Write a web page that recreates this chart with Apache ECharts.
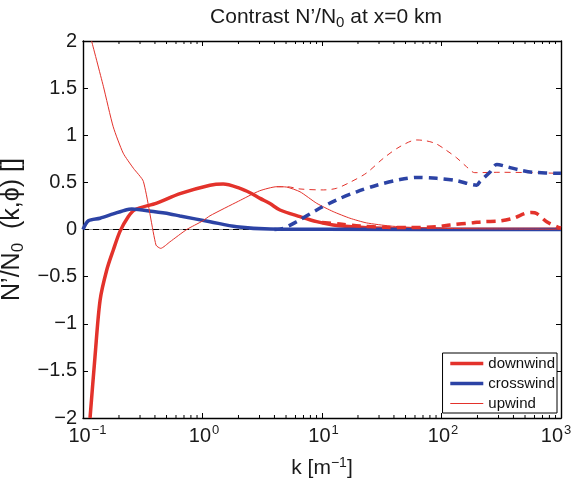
<!DOCTYPE html>
<html>
<head>
<meta charset="utf-8">
<script src="https://cdn.jsdelivr.net/npm/echarts@6/dist/echarts.min.js"></script>
<style>
  html, body { margin: 0; padding: 0; background: #fff; }
  #chart { width: 572px; height: 489px; }
</style>
</head>
<body>
<div id="chart"></div>
<script>
// Contrast N'/N0 versus wavenumber k, three look directions.
// Solid parts and dashed parts of each direction are kept as separate lists of [k, value].

const downwindSolid = [
  [0.1145, -2.0], [0.126, -1.35], [0.139, -0.75], [0.158, -0.43], [0.179, -0.22],
  [0.204, -0.02], [0.239, 0.136], [0.272, 0.21], [0.414, 0.28], [0.648, 0.38],
  [1.156, 0.47], [1.49, 0.483], [2.06, 0.437], [2.5, 0.39], [3.03, 0.33],
  [3.67, 0.275], [4.45, 0.207], [6.55, 0.136], [9.03, 0.083], [12.4, 0.048],
  [20.8, 0.023], [40, 0.01], [100, 0.005], [1000, 0.002]
];
const downwindDashed = [
  [10, 0.075], [14.15, 0.058], [20.8, 0.037], [34.8, 0.023], [51.2, 0.02],
  [91, 0.03], [117.8, 0.048], [184.6, 0.072], [224, 0.083], [309, 0.09],
  [399, 0.12], [500, 0.17], [568, 0.18], [626, 0.17], [759, 0.083],
  [949, 0.023], [1000, 0.015]
];
const crosswindSolid = [
  [0.1, 0.0], [0.111, 0.093], [0.139, 0.12], [0.179, 0.165], [0.232, 0.21],
  [0.256, 0.217], [0.388, 0.19], [0.534, 0.165], [0.648, 0.143], [1.156, 0.083],
  [1.93, 0.03], [3.67, 0.005], [10, 0.002], [1000, 0.001]
];
const crosswindDashed = [
  [4.0, 0.0], [4.75, 0.013], [6.14, 0.083], [9.03, 0.207], [13.2, 0.313],
  [19.5, 0.40], [28.7, 0.47], [45, 0.53], [61.9, 0.553], [91, 0.543],
  [134, 0.518], [197, 0.47], [210, 0.51], [255, 0.61], [290, 0.69],
  [351, 0.667], [454, 0.63], [586, 0.607], [1000, 0.596]
];
const upwindSolid = [
  [0.118, 2.0], [0.148, 1.52], [0.179, 1.09], [0.217, 0.81], [0.264, 0.65],
  [0.32, 0.51], [0.408, -0.165], [0.447, -0.2], [0.535, -0.13], [0.738, 0.0],
  [1.0, 0.09], [1.156, 0.146], [2.0, 0.30], [3.0, 0.41], [4.18, 0.454],
  [5.07, 0.45], [6.55, 0.40], [9.03, 0.278], [12.4, 0.19], [17.1, 0.12],
  [23.6, 0.07], [37.1, 0.037], [61.9, 0.02], [100, 0.012], [300, 0.006],
  [1000, 0.003]
];
const upwindDashed = [
  [4.18, 0.454], [5.07, 0.454], [6.55, 0.43], [10.25, 0.42], [13.2, 0.437],
  [17.1, 0.50], [23.6, 0.60], [32.6, 0.755], [45, 0.88], [61.9, 0.95],
  [75, 0.94], [90, 0.91], [107, 0.85], [134, 0.76], [162, 0.666],
  [190, 0.603], [309, 0.607], [586, 0.603], [1000, 0.595]
];

const seriesNames = ['downwind', 'crosswind', 'upwind'];
const xExtent = [0.1, 1000];
const yTicks = [-2, -1.5, -1, -0.5, 0, 0.5, 1, 1.5, 2];
const zeroLine = [[0.1, 0], [1000, 0]];

// minor log ticks 2..9 in every decade
const minorTicks = [];
for (let e = -1; e < 3; e++) {
  for (let m = 2; m <= 9; m++) minorTicks.push([m * Math.pow(10, e), 0]);
}

const RED = '#e3322b';
const BLUE = '#2c43a5';
const INK = '#1a1a1a';
const FONT = '"Liberation Sans", Arial, Helvetica, sans-serif';

const chart = echarts.init(document.getElementById('chart'), null, { renderer: 'canvas' });

// "10" with a raised exponent; the mantissa sits roughly over the tick,
// and the last label is nudged inward so its exponent stays on the canvas
function sup(v) {
  const e = Math.round(Math.log10(v));
  const s = e < 0 ? '\u2212' + Math.abs(e) : String(e);
  if (e >= 3) return '{b|10}{s|' + s + '}{r|}';
  return (e < 0 ? '{pw|}' : '{pn|}') + '{b|10}{s|' + s + '}';
}

const axisLineStyle = { color: '#000', width: 1.4 };

const option = {
  backgroundColor: '#fff',
  animation: false,
  textStyle: { fontFamily: FONT },
  title: {
    text: 'Contrast N\u2019/N{sub|0} at x=0 km',
    left: 321,
    textAlign: 'center',
    top: 0,
    textStyle: {
      fontFamily: FONT, fontSize: 21, fontWeight: 'normal', color: INK,
      rich: {
        sub: { fontFamily: FONT, fontSize: 15, color: INK, padding: [10, 0, 0, 0] }
      }
    }
  },
  grid: { left: 83, right: 11, top: 41, bottom: 71, containLabel: false, outerBoundsMode: 'none' },
  legend: {
    data: [
      { name: 'downwind', lineStyle: { width: 3.5, color: RED }, itemStyle: { opacity: 0 } },
      { name: 'crosswind', lineStyle: { width: 3.5, color: BLUE }, itemStyle: { opacity: 0 } },
      { name: 'upwind', lineStyle: { width: 1, color: RED }, itemStyle: { opacity: 0 } }
    ],
    orient: 'vertical',
    right: 15,
    bottom: 76,
    itemWidth: 33,
    itemHeight: 14,
    itemGap: 5,
    padding: [3, 2, 2, 6],
    borderColor: '#000',
    borderWidth: 1,
    backgroundColor: '#fff',
    textStyle: { fontFamily: FONT, fontSize: 15, color: '#111' }
  },
  xAxis: [
    {
      type: 'log', logBase: 10, min: xExtent[0], max: xExtent[1],
      name: 'k [m{s|\u22121}]',
      nameLocation: 'middle',
      nameGap: 38,
      nameTextStyle: {
        fontFamily: FONT, fontSize: 21, color: INK,
        rich: { s: { fontFamily: FONT, fontSize: 14, color: INK, padding: [0, 0, 11, 0] } }
      },
      axisLine: { onZero: false, lineStyle: axisLineStyle },
      axisTick: { inside: true, length: 5, lineStyle: { color: '#000' } },
      splitLine: { show: false },
      axisLabel: {
        margin: 6,
        formatter: sup,
        rich: {
          b: { fontFamily: FONT, fontSize: 20, color: INK },
          s: { fontFamily: FONT, fontSize: 13, color: INK, padding: [0, 0, 12, 1] },
          pn: { width: 3 },
          pw: { width: 9 },
          r: { width: 10 }
        }
      }
    },
    {
      type: 'log', logBase: 10, min: xExtent[0], max: xExtent[1], position: 'top',
      axisLine: { onZero: false, lineStyle: axisLineStyle },
      axisTick: { inside: true, length: 5, lineStyle: { color: '#000' } },
      axisLabel: { show: false },
      splitLine: { show: false }
    }
  ],
  yAxis: [
    {
      type: 'value', min: yTicks[0], max: yTicks[yTicks.length - 1], interval: 0.5,
      name: 'N\u2019/N{sub|0}  (k,\u03d5) []',
      nameLocation: 'middle',
      nameGap: 44,
      nameRotate: 90,
      nameTextStyle: {
        fontFamily: FONT, fontSize: 25, color: INK,
        rich: { sub: { fontFamily: FONT, fontSize: 17, color: INK, padding: [12, 0, 0, 0] } }
      },
      axisLine: { onZero: false, lineStyle: axisLineStyle },
      axisTick: { inside: true, length: 5, lineStyle: { color: '#000' } },
      splitLine: { show: false },
      axisLabel: {
        margin: 6,
        fontFamily: FONT, fontSize: 20, color: INK,
        formatter: v => (v < 0 ? '\u2212' + Math.abs(v) : String(v))
      }
    },
    {
      type: 'value', min: yTicks[0], max: yTicks[yTicks.length - 1], interval: 0.5,
      position: 'right',
      axisLine: { onZero: false, lineStyle: axisLineStyle },
      axisTick: { inside: true, length: 5, lineStyle: { color: '#000' } },
      axisLabel: { show: false },
      splitLine: { show: false }
    }
  ],
  series: [
    {
      name: 'zeroBase', type: 'line', data: zeroLine, symbol: 'none', silent: true,
      lineStyle: { color: '#9a9a9a', width: 1.2 }, z: 1
    },
    {
      name: 'zeroDash', type: 'line', data: zeroLine, symbol: 'none', silent: true,
      lineStyle: { color: '#000', width: 1.2, type: [6, 4] }, z: 1
    },
    {
      name: 'minorTicks', type: 'custom', data: minorTicks, silent: true, clip: false,
      renderItem: (params, api) => {
        const k = api.value(0);
        const b = api.coord([k, -2]);
        const t = api.coord([k, 2]);
        const st = { stroke: '#000', lineWidth: 1 };
        return {
          type: 'group',
          children: [
            { type: 'line', shape: { x1: b[0], y1: b[1], x2: b[0], y2: b[1] - 3 }, style: st },
            { type: 'line', shape: { x1: t[0], y1: t[1], x2: t[0], y2: t[1] + 3 }, style: st }
          ]
        };
      },
      z: 3
    },
    {
      name: 'downwind', type: 'line', data: downwindSolid, symbol: 'none', smooth: 0.3,
      lineStyle: { color: RED, width: 3.5 }, itemStyle: { color: RED }, z: 2
    },
    {
      name: 'crosswind', type: 'line', data: crosswindSolid, symbol: 'none', smooth: 0.3,
      lineStyle: { color: BLUE, width: 3.5 }, itemStyle: { color: BLUE }, z: 2
    },
    {
      name: 'upwind', type: 'line', data: upwindSolid, symbol: 'none', smooth: 0.2,
      lineStyle: { color: RED, width: 1 }, itemStyle: { color: RED }, z: 2
    },
    {
      name: 'upwind', type: 'line', data: upwindDashed, symbol: 'none', smooth: 0.3,
      lineStyle: { color: RED, width: 1, type: [6, 5] }, itemStyle: { color: RED }, z: 2
    },
    {
      name: 'crosswind', type: 'line', data: crosswindDashed, symbol: 'none', smooth: 0.3,
      lineStyle: { color: BLUE, width: 3.5, type: [9, 6] }, itemStyle: { color: BLUE }, z: 2
    },
    {
      name: 'downwind', type: 'line', data: downwindDashed, symbol: 'none', smooth: 0.3,
      lineStyle: { color: RED, width: 3.5, type: [9, 6] }, itemStyle: { color: RED }, z: 2
    }
  ]
};

chart.setOption(option);
</script>
</body>
</html>
